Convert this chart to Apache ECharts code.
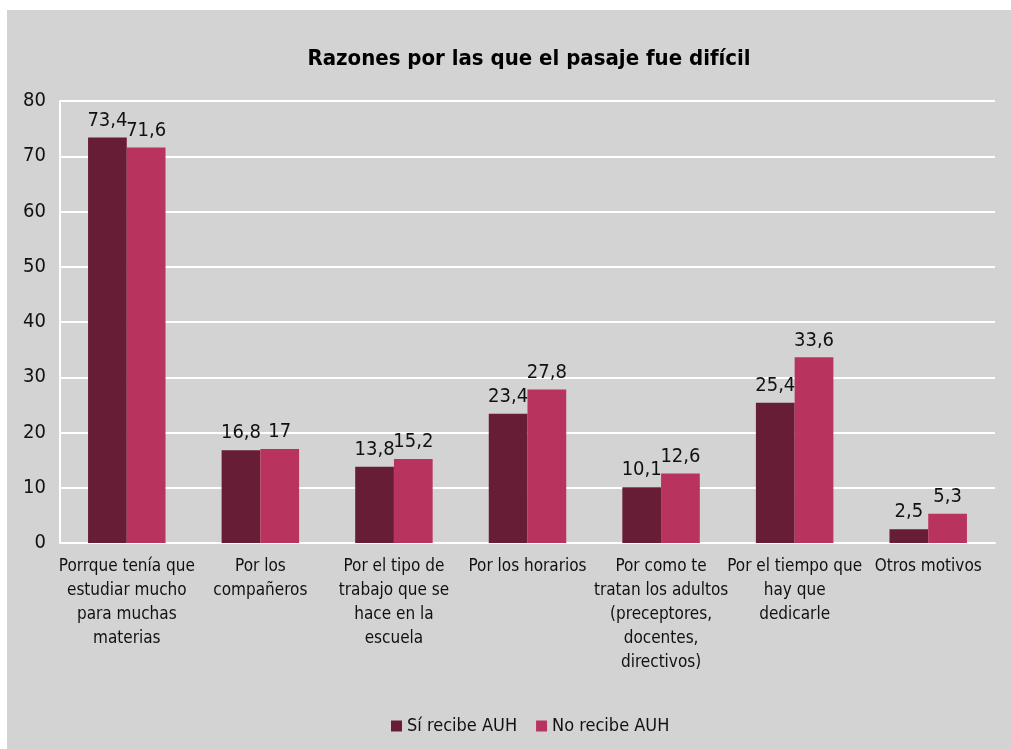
<!DOCTYPE html>
<html>
<head>
<meta charset="utf-8">
<script src="https://cdn.jsdelivr.net/npm/echarts@6/dist/echarts.min.js"></script>
<style>
  html, body { margin: 0; padding: 0; background: #fff; }
  #main { position: absolute; left: 7px; top: 10px; width: 1004px; height: 739px; background: #d3d3d3; }
</style>
</head>
<body>
<div id="main"></div>
<script>
var categories = [
    'Porrque tenía que\nestudiar mucho\npara muchas\nmaterias',
    'Por los\ncompañeros',
    'Por el tipo de\ntrabajo que se\nhace en la\nescuela',
    'Por los horarios',
    'Por como te\ntratan los adultos\n(preceptores,\ndocentes,\ndirectivos)',
    'Por el tiempo que\nhay que\ndedicarle',
    'Otros motivos'
];
var siRecibe = [73.4, 16.8, 13.8, 23.4, 10.1, 25.4, 2.5];
var noRecibe = [71.6, 17, 15.2, 27.8, 12.6, 33.6, 5.3];
var seriesNames = ['Sí recibe AUH', 'No recibe AUH'];

var font = "'DejaVu Sans Condensed', 'Liberation Sans Narrow', sans-serif";

var chart = echarts.init(document.getElementById('main'));

function barLabel() {
    return {
        show: true,
        position: 'top',
        distance: 7,
        color: '#111',
        fontFamily: font,
        fontSize: 20,
        formatter: function (p) { return String(p.value).replace('.', ','); }
    };
}

chart.setOption({
    backgroundColor: 'transparent',
    textStyle: { fontFamily: font },
    title: {
        text: 'Razones por las que el pasaje fue difícil',
        left: 517,
        textAlign: 'center',
        top: 33,
        textStyle: { fontFamily: font, fontSize: 22, fontWeight: 900, color: '#000' }
    },
    legend: {
        data: seriesNames,
        left: 379,
        top: 702,
        icon: 'rect',
        itemWidth: 11,
        itemHeight: 11,
        itemGap: 19,
        itemStyle: { borderWidth: 0 },
        textStyle: { fontFamily: font, fontSize: 18, color: '#111' }
    },
    grid: { left: 53, right: 16, top: 91, height: 442 },
    xAxis: {
        type: 'category',
        data: categories,
        axisLine: { show: true, lineStyle: { color: '#fff', width: 2 } },
        axisTick: { show: false },
        axisLabel: {
            interval: 0,
            margin: 12,
            color: '#111',
            fontFamily: font,
            fontSize: 17,
            lineHeight: 24
        }
    },
    yAxis: {
        type: 'value',
        min: 0,
        max: 80,
        interval: 10,
        axisLine: { show: true, lineStyle: { color: '#fff', width: 2 } },
        axisTick: { show: false },
        splitLine: { lineStyle: { color: '#fff', width: 2 } },
        axisLabel: { margin: 14, color: '#111', fontFamily: font, fontSize: 20 }
    },
    series: [
        {
            name: seriesNames[0],
            type: 'bar',
            data: siRecibe,
            barGap: '0%',
            barCategoryGap: '42%',
            itemStyle: { color: '#661d35' },
            label: barLabel()
        },
        {
            name: seriesNames[1],
            type: 'bar',
            data: noRecibe,
            itemStyle: { color: '#b8345e' },
            label: barLabel()
        }
    ]
});

window.addEventListener('resize', function () { chart.resize(); });
</script>
</body>
</html>
